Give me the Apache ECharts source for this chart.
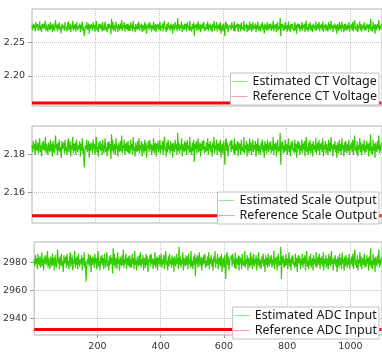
<!DOCTYPE html>
<html>
<head>
<meta charset="utf-8">
<script src="https://cdn.jsdelivr.net/npm/echarts@6/dist/echarts.min.js"></script>
<style>
  html, body { margin: 0; padding: 0; background: #fff; }
  #chart { width: 382px; height: 352px; }
</style>
</head>
<body>
<div id="chart"></div>
<script>
// one point every 2 samples
const sampleStep = 2;

const ctVoltage = [
  2.275,2.268,2.278,2.271,2.276,2.266,2.280,2.272,2.270,2.277,2.267,2.273,2.281,2.268,2.275,2.265,2.277,2.271,2.278,2.270,2.272,2.282,2.267,2.276,2.271,
  2.266,2.277,2.273,2.268,2.280,2.270,2.276,2.265,2.278,2.272,2.267,2.275,2.283,2.271,2.276,2.266,2.277,2.270,2.280,2.268,2.273,2.263,2.278,2.271,2.275,
  2.277,2.267,2.280,2.270,2.273,2.266,2.276,2.281,2.268,2.272,2.278,2.265,2.275,2.271,2.282,2.267,2.276,2.270,2.277,2.266,2.280,2.272,2.268,2.275,2.271,
  2.278,2.265,2.276,2.270,2.281,2.267,2.273,2.259,2.266,2.275,2.271,2.280,2.268,2.272,2.278,2.263,2.276,2.270,2.277,2.273,2.267,2.280,2.271,2.276,2.266,
  2.275,2.282,2.268,2.273,2.265,2.277,2.271,2.278,2.270,2.276,2.266,2.280,2.272,2.267,2.275,2.281,2.268,2.273,2.265,2.277,2.270,2.278,2.271,2.276,2.262,
  2.285,2.270,2.280,2.267,2.273,2.276,2.266,2.281,2.271,2.275,2.265,2.277,2.272,2.268,2.278,2.270,2.283,2.267,2.275,2.271,2.280,2.266,2.276,2.270,2.277,
  2.268,2.278,2.267,2.275,2.267,2.280,2.271,2.276,2.266,2.282,2.270,2.273,2.265,2.277,2.272,2.268,2.278,2.270,2.281,2.267,2.275,2.271,2.278,2.265,2.276,
  2.273,2.267,2.280,2.270,2.277,2.263,2.275,2.272,2.278,2.268,2.280,2.271,2.276,2.266,2.275,2.270,2.281,2.267,2.273,2.277,2.265,2.276,2.271,2.278,2.268,
  2.272,2.280,2.267,2.275,2.271,2.278,2.266,2.276,2.282,2.270,2.273,2.265,2.277,2.268,2.280,2.271,2.275,2.267,2.278,2.270,2.276,2.263,2.277,2.272,2.268,
  2.280,2.271,2.276,2.266,2.286,2.270,2.277,2.267,2.275,2.271,2.281,2.265,2.276,2.272,2.268,2.278,2.270,2.277,2.266,2.280,2.271,2.275,2.267,2.282,2.268,
  2.273,2.266,2.277,2.270,2.280,2.260,2.276,2.271,2.278,2.267,2.275,2.281,2.268,2.272,2.277,2.265,2.276,2.270,2.278,2.271,2.280,2.267,2.273,2.268,2.277,
  2.270,2.281,2.266,2.276,2.271,2.278,2.268,2.275,2.265,2.277,2.272,2.282,2.267,2.275,2.271,2.280,2.266,2.276,2.270,2.277,2.268,2.280,2.263,2.273,2.276,
  2.267,2.278,2.271,2.259,2.278,2.281,2.270,2.277,2.265,2.273,2.275,2.276,2.278,2.268,2.280,2.271,2.275,2.267,2.281,2.266,2.276,2.272,2.270,2.278,2.265,
  2.277,2.271,2.276,2.266,2.280,2.270,2.273,2.268,2.282,2.267,2.275,2.271,2.278,2.265,2.276,2.272,2.267,2.281,2.270,2.277,2.266,2.273,2.280,2.268,2.275,
  2.271,2.278,2.265,2.276,2.270,2.281,2.267,2.275,2.272,2.266,2.277,2.271,2.280,2.268,2.275,2.263,2.278,2.270,2.276,2.267,2.280,2.272,2.268,2.277,2.271,
  2.278,2.267,2.275,2.270,2.282,2.266,2.276,2.271,2.277,2.265,2.275,2.280,2.268,2.273,2.270,2.286,2.259,2.277,2.271,2.278,2.267,2.275,2.268,2.280,2.270,
  2.276,2.266,2.273,2.281,2.268,2.275,2.265,2.277,2.271,2.278,2.270,2.272,2.267,2.280,2.268,2.276,2.263,2.275,2.278,2.271,2.277,2.266,2.275,2.270,2.280,
  2.267,2.276,2.271,2.278,2.265,2.275,2.282,2.268,2.273,2.266,2.277,2.270,2.280,2.267,2.272,2.276,2.265,2.278,2.271,2.275,2.268,2.281,2.267,2.273,2.277,
  2.270,2.280,2.266,2.276,2.271,2.277,2.268,2.281,2.265,2.275,2.271,2.278,2.267,2.276,2.272,2.266,2.280,2.270,2.277,2.268,2.282,2.271,2.275,2.265,2.276,
  2.271,2.278,2.268,2.275,2.263,2.277,2.273,2.267,2.280,2.270,2.276,2.266,2.281,2.271,2.275,2.265,2.277,2.268,2.278,2.272,2.267,2.276,2.270,2.280,2.266,
  2.275,2.271,2.277,2.268,2.280,2.266,2.276,2.283,2.270,2.273,2.267,2.278,2.265,2.275,2.271,2.281,2.268,2.277,2.266,2.273,2.276,2.270,2.280,2.267,2.275,
  2.268,2.278,2.271,2.276,2.265,2.277,2.270,2.285,2.267,2.273,2.266,2.280,2.270,2.276,2.263,2.277,2.272,2.268,2.278,2.271,2.283,2.267,2.275,2.270,2.277
];

const scaleOutput = [
  2.1847,2.1810,2.1869,2.1825,2.1854,2.1796,2.1876,2.1832,2.1817,2.1861,2.1803,2.1839,2.1883,2.1810,2.1847,2.1788,2.1861,2.1825,2.1869,2.1817,2.1832,2.1890,2.1803,2.1854,2.1825,
  2.1796,2.1861,2.1839,2.1810,2.1876,2.1817,2.1854,2.1788,2.1869,2.1832,2.1803,2.1847,2.1898,2.1825,2.1854,2.1796,2.1861,2.1817,2.1876,2.1810,2.1839,2.1781,2.1869,2.1825,2.1847,
  2.1861,2.1803,2.1876,2.1817,2.1839,2.1796,2.1854,2.1883,2.1810,2.1832,2.1869,2.1788,2.1847,2.1825,2.1890,2.1803,2.1854,2.1817,2.1861,2.1796,2.1876,2.1832,2.1810,2.1847,2.1825,
  2.1869,2.1788,2.1854,2.1817,2.1883,2.1803,2.1839,2.1730,2.1796,2.1847,2.1825,2.1876,2.1810,2.1832,2.1869,2.1781,2.1854,2.1817,2.1861,2.1839,2.1803,2.1876,2.1825,2.1854,2.1796,
  2.1847,2.1890,2.1810,2.1839,2.1788,2.1861,2.1825,2.1869,2.1817,2.1854,2.1796,2.1876,2.1832,2.1803,2.1847,2.1883,2.1810,2.1839,2.1788,2.1861,2.1817,2.1869,2.1825,2.1854,2.1774,
  2.1905,2.1817,2.1876,2.1803,2.1839,2.1854,2.1796,2.1883,2.1825,2.1847,2.1788,2.1861,2.1832,2.1810,2.1869,2.1817,2.1898,2.1803,2.1847,2.1825,2.1876,2.1796,2.1854,2.1817,2.1861,
  2.1810,2.1869,2.1803,2.1847,2.1803,2.1876,2.1825,2.1854,2.1796,2.1890,2.1817,2.1839,2.1788,2.1861,2.1832,2.1810,2.1869,2.1817,2.1883,2.1803,2.1847,2.1825,2.1869,2.1788,2.1854,
  2.1839,2.1803,2.1876,2.1817,2.1861,2.1781,2.1847,2.1832,2.1869,2.1810,2.1876,2.1825,2.1854,2.1796,2.1847,2.1817,2.1883,2.1803,2.1839,2.1861,2.1788,2.1854,2.1825,2.1869,2.1810,
  2.1832,2.1876,2.1803,2.1847,2.1825,2.1869,2.1796,2.1854,2.1890,2.1817,2.1839,2.1788,2.1861,2.1810,2.1876,2.1825,2.1847,2.1803,2.1869,2.1817,2.1854,2.1781,2.1861,2.1832,2.1810,
  2.1876,2.1825,2.1854,2.1796,2.1912,2.1817,2.1861,2.1803,2.1847,2.1825,2.1883,2.1788,2.1854,2.1832,2.1810,2.1869,2.1817,2.1861,2.1796,2.1876,2.1825,2.1847,2.1803,2.1890,2.1810,
  2.1839,2.1796,2.1861,2.1817,2.1876,2.1759,2.1854,2.1825,2.1869,2.1803,2.1847,2.1883,2.1810,2.1832,2.1861,2.1788,2.1854,2.1817,2.1869,2.1825,2.1876,2.1803,2.1839,2.1810,2.1861,
  2.1817,2.1883,2.1796,2.1854,2.1825,2.1869,2.1810,2.1847,2.1788,2.1861,2.1832,2.1890,2.1803,2.1847,2.1825,2.1876,2.1796,2.1854,2.1817,2.1861,2.1810,2.1876,2.1781,2.1839,2.1854,
  2.1803,2.1869,2.1825,2.1744,2.1869,2.1883,2.1817,2.1861,2.1788,2.1839,2.1847,2.1854,2.1869,2.1810,2.1876,2.1825,2.1847,2.1803,2.1883,2.1796,2.1854,2.1832,2.1817,2.1869,2.1788,
  2.1861,2.1825,2.1854,2.1796,2.1876,2.1817,2.1839,2.1810,2.1890,2.1803,2.1847,2.1825,2.1869,2.1788,2.1854,2.1832,2.1803,2.1883,2.1817,2.1861,2.1796,2.1839,2.1876,2.1810,2.1847,
  2.1825,2.1869,2.1788,2.1854,2.1817,2.1883,2.1803,2.1847,2.1832,2.1796,2.1861,2.1825,2.1876,2.1810,2.1847,2.1781,2.1869,2.1817,2.1854,2.1803,2.1876,2.1832,2.1810,2.1861,2.1825,
  2.1869,2.1803,2.1847,2.1817,2.1890,2.1796,2.1854,2.1825,2.1861,2.1788,2.1847,2.1876,2.1810,2.1839,2.1817,2.1912,2.1744,2.1861,2.1825,2.1869,2.1803,2.1847,2.1810,2.1876,2.1817,
  2.1854,2.1796,2.1839,2.1883,2.1810,2.1847,2.1788,2.1861,2.1825,2.1869,2.1817,2.1832,2.1803,2.1876,2.1810,2.1854,2.1781,2.1847,2.1869,2.1825,2.1861,2.1796,2.1847,2.1817,2.1876,
  2.1803,2.1854,2.1825,2.1869,2.1788,2.1847,2.1890,2.1810,2.1839,2.1796,2.1861,2.1817,2.1876,2.1803,2.1832,2.1854,2.1788,2.1869,2.1825,2.1847,2.1810,2.1883,2.1803,2.1839,2.1861,
  2.1817,2.1876,2.1796,2.1854,2.1825,2.1861,2.1810,2.1883,2.1788,2.1847,2.1825,2.1869,2.1803,2.1854,2.1832,2.1796,2.1876,2.1817,2.1861,2.1810,2.1890,2.1825,2.1847,2.1788,2.1854,
  2.1825,2.1869,2.1810,2.1847,2.1781,2.1861,2.1839,2.1803,2.1876,2.1817,2.1854,2.1796,2.1883,2.1825,2.1847,2.1788,2.1861,2.1810,2.1869,2.1832,2.1803,2.1854,2.1817,2.1876,2.1796,
  2.1847,2.1825,2.1861,2.1810,2.1876,2.1796,2.1854,2.1898,2.1817,2.1839,2.1803,2.1869,2.1788,2.1847,2.1825,2.1883,2.1810,2.1861,2.1796,2.1839,2.1854,2.1817,2.1876,2.1803,2.1847,
  2.1810,2.1869,2.1825,2.1854,2.1788,2.1861,2.1817,2.1905,2.1803,2.1839,2.1796,2.1876,2.1817,2.1854,2.1781,2.1861,2.1832,2.1810,2.1869,2.1825,2.1898,2.1803,2.1847,2.1817,2.1861
];

const adcInput = [
  2982,2977,2985,2979,2983,2975,2986,2980,2978,2984,2976,2981,2987,2977,2982,2974,2984,2979,2985,2978,2980,2988,2976,2983,2979,
  2975,2984,2981,2977,2986,2978,2983,2974,2985,2980,2976,2982,2989,2979,2983,2975,2984,2978,2986,2977,2981,2973,2985,2979,2982,
  2984,2976,2986,2978,2981,2975,2983,2987,2977,2980,2985,2974,2982,2979,2988,2976,2983,2978,2984,2975,2986,2980,2977,2982,2979,
  2985,2974,2983,2978,2987,2976,2981,2966,2975,2982,2979,2986,2977,2980,2985,2973,2983,2978,2984,2981,2976,2986,2979,2983,2975,
  2982,2988,2977,2981,2974,2984,2979,2985,2978,2983,2975,2986,2980,2976,2982,2987,2977,2981,2974,2984,2978,2985,2979,2983,2972,
  2990,2978,2986,2976,2981,2983,2975,2987,2979,2982,2974,2984,2980,2977,2985,2978,2989,2976,2982,2979,2986,2975,2983,2978,2984,
  2977,2985,2976,2982,2976,2986,2979,2983,2975,2988,2978,2981,2974,2984,2980,2977,2985,2978,2987,2976,2982,2979,2985,2974,2983,
  2981,2976,2986,2978,2984,2973,2982,2980,2985,2977,2986,2979,2983,2975,2982,2978,2987,2976,2981,2984,2974,2983,2979,2985,2977,
  2980,2986,2976,2982,2979,2985,2975,2983,2988,2978,2981,2974,2984,2977,2986,2979,2982,2976,2985,2978,2983,2973,2984,2980,2977,
  2986,2979,2983,2975,2991,2978,2984,2976,2982,2979,2987,2974,2983,2980,2977,2985,2978,2984,2975,2986,2979,2982,2976,2988,2977,
  2981,2975,2984,2978,2986,2970,2983,2979,2985,2976,2982,2987,2977,2980,2984,2974,2983,2978,2985,2979,2986,2976,2981,2977,2984,
  2978,2987,2975,2983,2979,2985,2977,2982,2974,2984,2980,2988,2976,2982,2979,2986,2975,2983,2978,2984,2977,2986,2973,2981,2983,
  2976,2985,2979,2968,2985,2987,2978,2984,2974,2981,2982,2983,2985,2977,2986,2979,2982,2976,2987,2975,2983,2980,2978,2985,2974,
  2984,2979,2983,2975,2986,2978,2981,2977,2988,2976,2982,2979,2985,2974,2983,2980,2976,2987,2978,2984,2975,2981,2986,2977,2982,
  2979,2985,2974,2983,2978,2987,2976,2982,2980,2975,2984,2979,2986,2977,2982,2973,2985,2978,2983,2976,2986,2980,2977,2984,2979,
  2985,2976,2982,2978,2988,2975,2983,2979,2984,2974,2982,2986,2977,2981,2978,2991,2968,2984,2979,2985,2976,2982,2977,2986,2978,
  2983,2975,2981,2987,2977,2982,2974,2984,2979,2985,2978,2980,2976,2986,2977,2983,2973,2982,2985,2979,2984,2975,2982,2978,2986,
  2976,2983,2979,2985,2974,2982,2988,2977,2981,2975,2984,2978,2986,2976,2980,2983,2974,2985,2979,2982,2977,2987,2976,2981,2984,
  2978,2986,2975,2983,2979,2984,2977,2987,2974,2982,2979,2985,2976,2983,2980,2975,2986,2978,2984,2977,2988,2979,2982,2974,2983,
  2979,2985,2977,2982,2973,2984,2981,2976,2986,2978,2983,2975,2987,2979,2982,2974,2984,2977,2985,2980,2976,2983,2978,2986,2975,
  2982,2979,2984,2977,2986,2975,2983,2989,2978,2981,2976,2985,2974,2982,2979,2987,2977,2984,2975,2981,2983,2978,2986,2976,2982,
  2977,2985,2979,2983,2974,2984,2978,2990,2976,2981,2975,2986,2978,2983,2973,2984,2980,2977,2985,2979,2989,2976,2982,2978,2984
];

// flat reference levels (CT voltage, scale output, ADC input)
const referenceLevels = [2.16, 2.1475, 2932];

const estimatedNames = ['Estimated CT Voltage', 'Estimated Scale Output', 'Estimated ADC Input'];
const referenceNames = ['Reference CT Voltage', 'Reference Scale Output', 'Reference ADC Input'];

const xTicks = [200, 400, 600, 800, 1000];
const yTicks = [[2.20, 2.25], [2.16, 2.18], [2940, 2960, 2980]];
const yRanges = [[2.1555, 2.2995], [2.1437, 2.1948], [2928, 2994.4]];
const yDecimals = [2, 2, 0];

const estimated = [ctVoltage, scaleOutput, adcInput];

const gridTops = [9, 126, 242];
const legendTops = [73, 192, 307];

const chart = echarts.init(document.getElementById('chart'), null, { renderer: 'canvas' });

const gridStyle = { type: 'dotted', color: '#c4c4c4', width: 1 };
const labelFont = { fontFamily: 'DejaVu Sans', fontSize: 9.5, color: '#333' };

const option = {
  animation: false,
  backgroundColor: '#fff',
  grid: gridTops.map((top) => ({
    left: 32,
    top,
    width: 358,
    height: 97,
    show: true,
    borderColor: '#b4b4b4',
    borderWidth: 1,
    backgroundColor: 'transparent',
  })),
  xAxis: gridTops.map((_, i) => ({
    type: 'value',
    gridIndex: i,
    min: 0,
    max: 1100,
    axisLine: { show: false },
    axisTick: { show: i === 2, length: 3, customValues: xTicks, lineStyle: { color: '#999' } },
    axisLabel: {
      show: i === 2,
      customValues: xTicks,
      margin: 7,
      ...labelFont,
      formatter: (v) => String(v),
    },
    splitLine: { show: true, lineStyle: gridStyle },
  })),
  yAxis: gridTops.map((_, i) => ({
    type: 'value',
    gridIndex: i,
    min: yRanges[i][0],
    max: yRanges[i][1],
    axisLine: { show: false },
    axisTick: { show: true, length: 4, customValues: yTicks[i], lineStyle: { color: '#999' } },
    axisLabel: {
      customValues: yTicks[i],
      margin: 7,
      ...labelFont,
      formatter: (v) => Number(v).toFixed(yDecimals[i]),
    },
    splitLine: { show: true, lineStyle: gridStyle },
  })),
  legend: gridTops.map((_, i) => ({
    orient: 'vertical',
    right: 3,
    top: legendTops[i],
    backgroundColor: '#fff',
    borderColor: '#c0c0c0',
    borderWidth: 1,
    padding: [2, 2, 2, 1],
    itemGap: 2,
    itemWidth: 16,
    itemHeight: 1,
    icon: 'rect',
    textStyle: { fontFamily: 'Noto Sans', fontSize: 12.5, color: '#1a1a1a' },
    data: [
      { name: estimatedNames[i], itemStyle: { color: '#9ee39a' } },
      { name: referenceNames[i], itemStyle: { color: '#f5a3ab' } },
    ],
    selectedMode: false,
    z: 10,
  })),
  series: [],
};

estimated.forEach((values, i) => {
  const points = values.map((v, k) => [k * sampleStep, v]);
  option.series.push({
    name: estimatedNames[i],
    type: 'line',
    xAxisIndex: i,
    yAxisIndex: i,
    data: points,
    showSymbol: false,
    symbol: 'none',
    lineStyle: { color: '#33cc00', width: 1.2 },
    itemStyle: { color: '#33cc00' },
    z: 3,
  });
  option.series.push({
    name: referenceNames[i],
    type: 'line',
    xAxisIndex: i,
    yAxisIndex: i,
    data: [[0, referenceLevels[i]], [points[points.length - 1][0], referenceLevels[i]]],
    showSymbol: false,
    symbol: 'none',
    lineStyle: { color: '#ff0000', width: 3 },
    itemStyle: { color: '#ff0000' },
    z: 2,
  });
});

chart.setOption(option);
</script>
</body>
</html>
